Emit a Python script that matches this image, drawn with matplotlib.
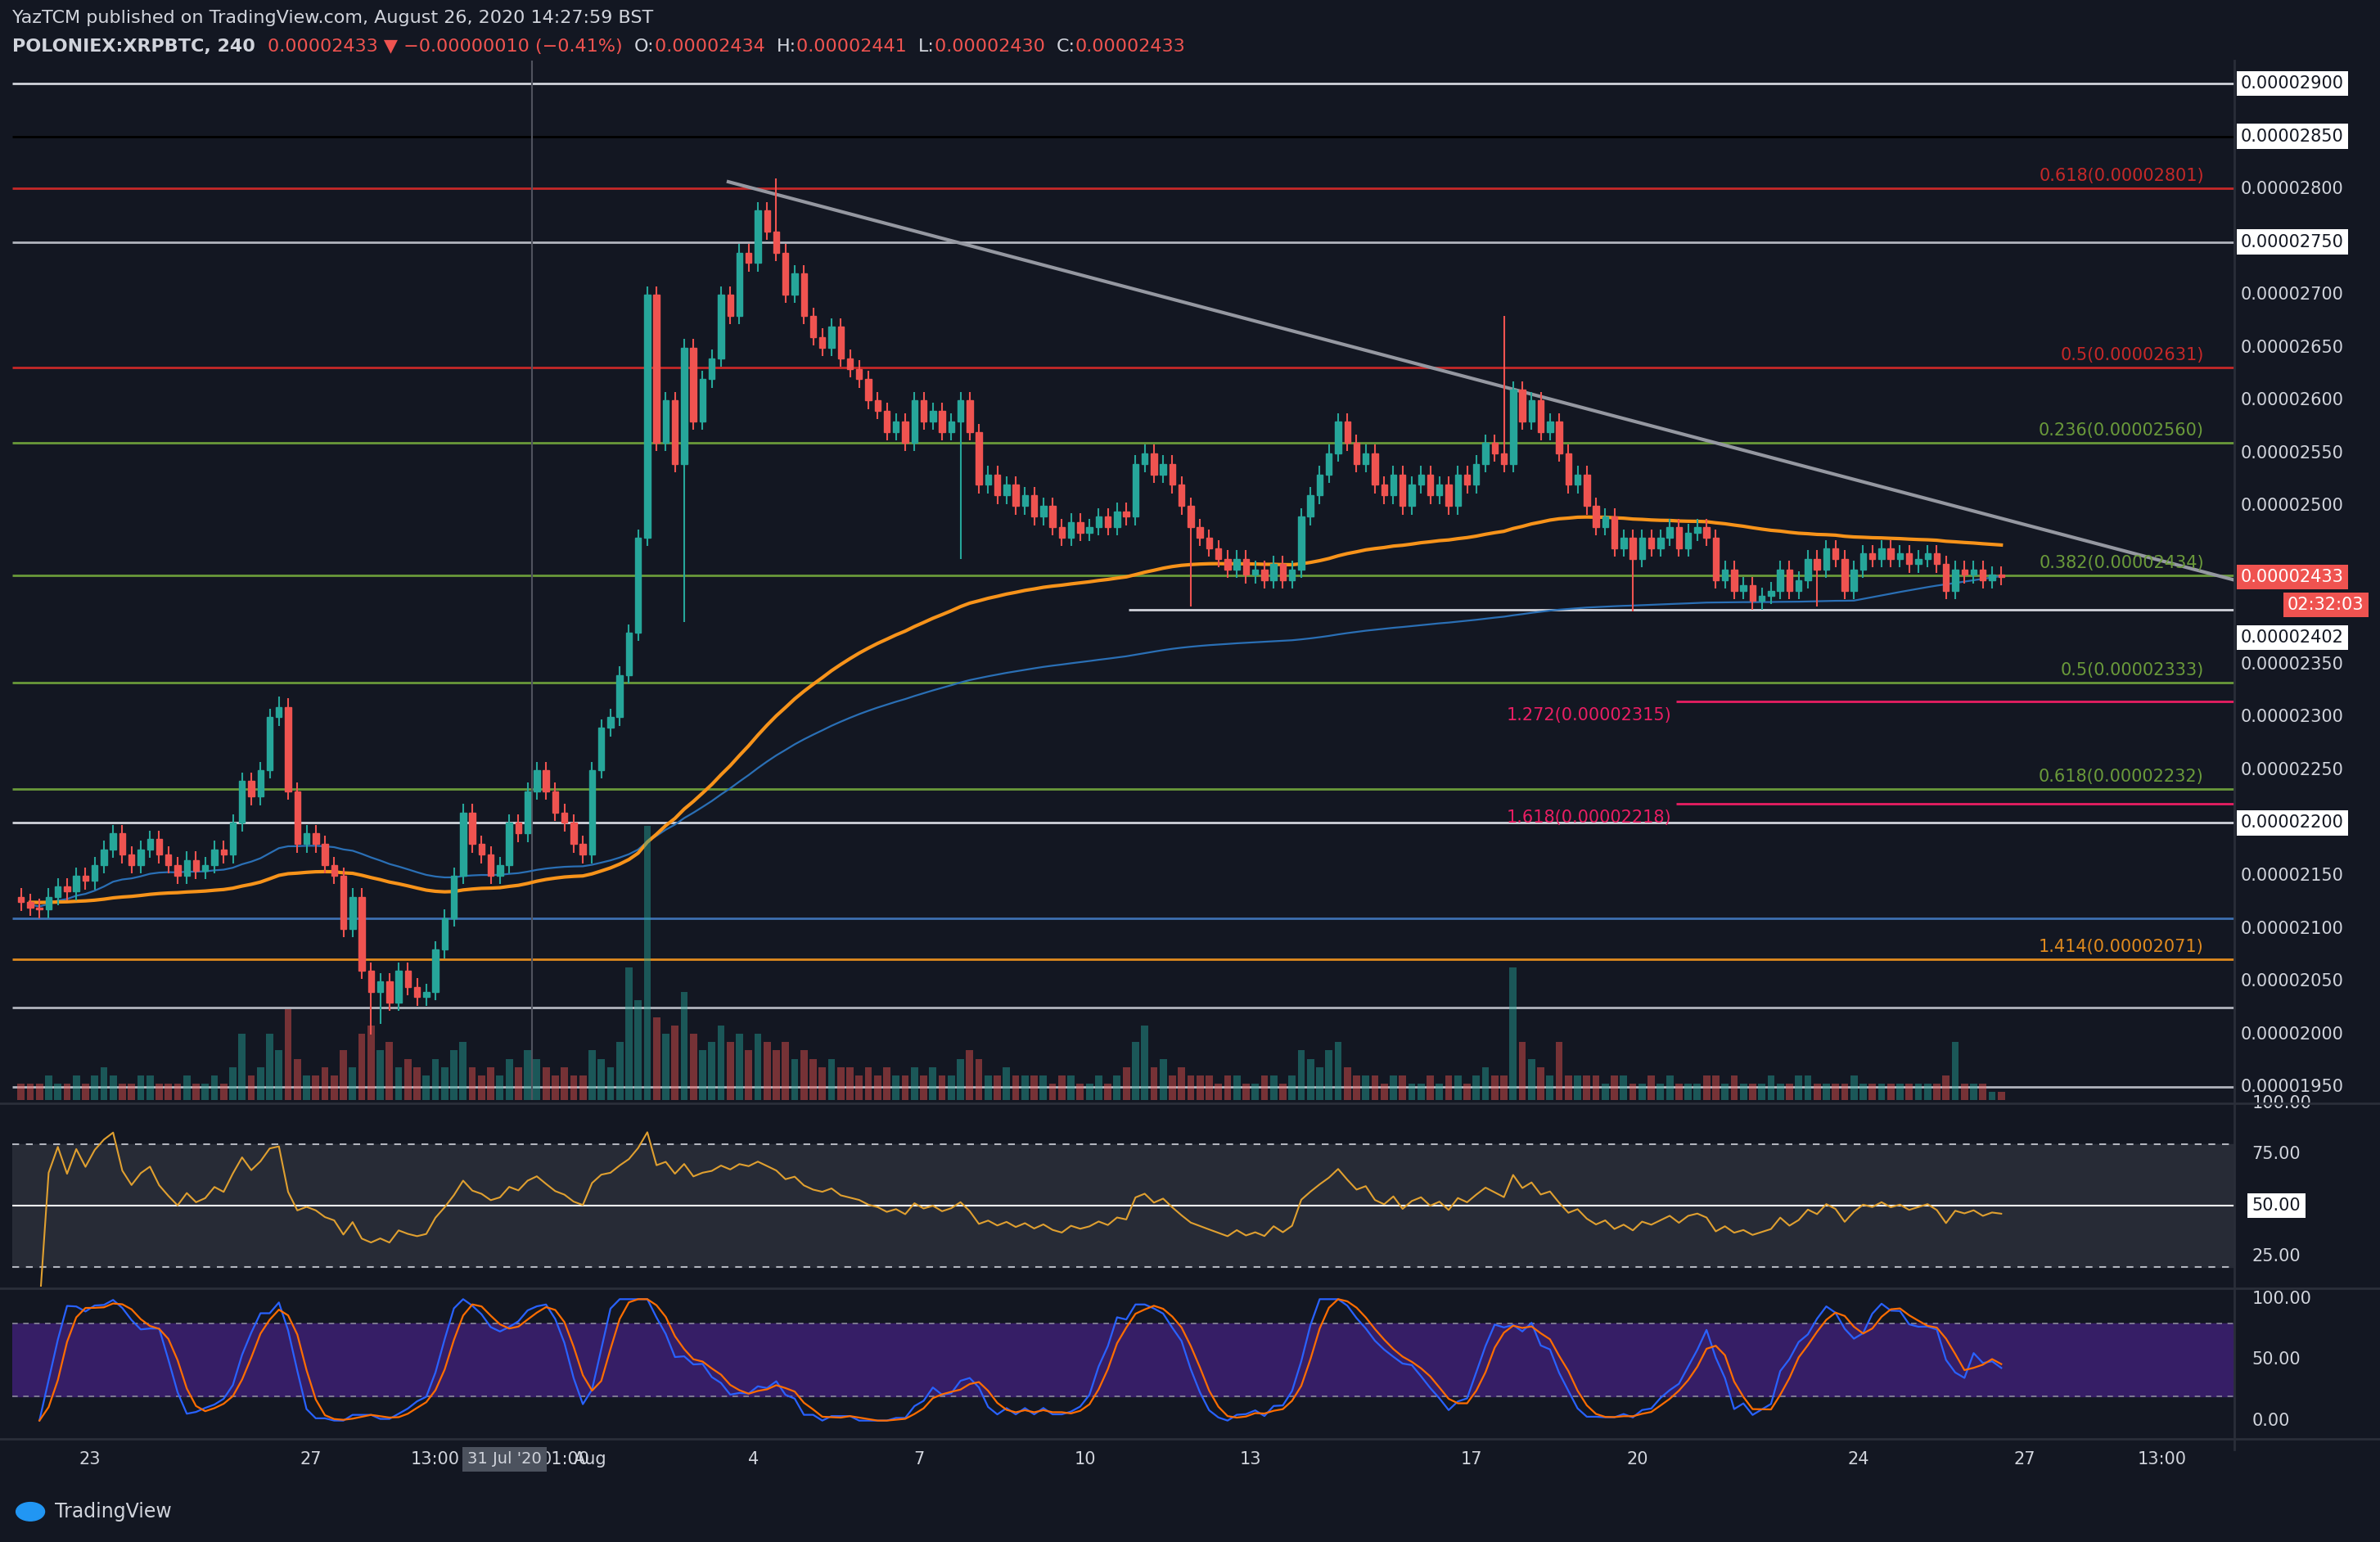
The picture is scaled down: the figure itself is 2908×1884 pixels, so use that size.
import numpy as np
import pandas as pd
import matplotlib
matplotlib.use("Agg")
import matplotlib.pyplot as plt
from matplotlib.patches import Rectangle

# ---------------- data (prices in 1e-8 BTC) ----------------
closes = [2125, 2120,
 2118, 2130, 2140, 2135, 2150, 2145,
 2160, 2175, 2190, 2170, 2160, 2175,
 2185, 2170, 2160, 2150, 2165, 2155,
 2160, 2175, 2170, 2200, 2240, 2225,
 2250, 2300, 2310, 2230, 2180, 2190,
 2180, 2160, 2150, 2100, 2130, 2060,
 2040, 2050, 2030, 2060, 2045, 2035,
 2040, 2080, 2110, 2150, 2210, 2180,
 2170, 2150, 2160, 2200, 2190, 2230,
 2250, 2230, 2210, 2200, 2180, 2170,
 2250, 2290, 2300, 2340, 2380, 2470,
 2700, 2560, 2600, 2540, 2650, 2580,
 2620, 2640, 2700, 2680, 2740, 2730,
 2780, 2760, 2740, 2700, 2720, 2680,
 2660, 2650, 2670, 2640, 2630, 2620,
 2600, 2590, 2570, 2580, 2560, 2600,
 2580, 2590, 2570, 2580, 2600, 2570,
 2520, 2530, 2510, 2520, 2500, 2510,
 2490, 2500, 2480, 2470, 2485, 2475,
 2480, 2490, 2480, 2495, 2490, 2540,
 2550, 2530, 2540, 2520, 2500, 2480,
 2470, 2460, 2450, 2440, 2450, 2435,
 2440, 2430, 2445, 2430, 2440, 2490,
 2510, 2530, 2550, 2580, 2560, 2540,
 2550, 2520, 2510, 2530, 2500, 2520,
 2530, 2510, 2520, 2500, 2530, 2520,
 2540, 2560, 2550, 2540, 2610, 2580,
 2600, 2570, 2580, 2550, 2520, 2530,
 2500, 2480, 2490, 2460, 2470, 2450,
 2470, 2460, 2470, 2480, 2460, 2475,
 2480, 2470, 2430, 2440, 2420, 2425,
 2410, 2415, 2420, 2440, 2420, 2430,
 2450, 2440, 2460, 2450, 2420, 2440,
 2455, 2450, 2460, 2450, 2455, 2445,
 2450, 2455, 2445, 2420, 2440, 2435,
 2440, 2430, 2435, 2433]

volumes = [2, 2,
 2,3,2,2,3,2, 3,4,3,2,2,3, 3,2,2,2,3,2, 2,3,2,4,8,3, 4,8,6,11,5,3,
 3,4,3,6,4,8, 9,6,7,4,5,4, 3,5,4,6,7,4, 3,4,3,5,4,6, 5,4,3,4,3,3,
 6,5,4,7,16,12, 33,10,8,9,13,8, 6,7,9,7,8,6, 8,7,6,7,5,6, 5,4,5,4,4,3,
 4,3,4,3,3,4, 3,4,3,3,5,6, 5,3,3,4,3,3, 3,3,2,3,3,2, 2,3,2,3,4,7,
 9,4,5,3,4,3, 3,3,2,3,3,2, 2,3,3,2,3,6, 5,4,6,7,4,3, 3,3,2,3,3,2,
 2,3,2,3,3,2, 3,4,3,3,16,7, 5,4,3,7,3,3, 3,3,2,3,3,2, 2,3,2,3,2,2,
 2,3,3,2,3,2, 2,2,3,2,2,3, 3,2,2,2,2,3, 2,2,2,2,2,2, 2,2,2,3,7,2,
 2,2,1,1]

# notable wick extremes: candle index -> (high, low)
spikes = {28: (2320, None), 38: (None, 2000), 39: (None, 2010), 72: (None, 2390),
          82: (2810, None), 102: (None, 2450), 127: (None, 2405),
          161: (2680, None), 175: (None, 2400), 195: (None, 2405)}

levels = [  # price, color, label, x-start (days)
    (2900, "#d1d4dc", None, None), (2850, "#000000", None, None),
    (2801, "#c62828", "0.618(0.00002801)", None), (2750, "#b2b5be", None, None),
    (2631, "#c62828", "0.5(0.00002631)", None), (2560, "#6a9a3a", "0.236(0.00002560)", None),
    (2434, "#6a9a3a", "0.382(0.00002434)", None), (2402, "#d1d4dc", None, 9.8),
    (2333, "#6a9a3a", "0.5(0.00002333)", None), (2315, "#e91e63", "1.272(0.00002315)", 19.7),
    (2232, "#6a9a3a", "0.618(0.00002232)", None), (2218, "#e91e63", "1.618(0.00002218)", 19.7),
    (2200, "#d1d4dc", None, None), (2110, "#3d6fb0", None, None),
    (2071, "#e08a1e", "1.414(0.00002071)", None), (2025, "#b2b5be", None, None),
    (1950, "#b2b5be", None, None)]

xticks = [-9, -5, -2.75, -1.5, -0.4, 0.05, 3, 6, 9, 12, 16, 19, 23, 26, 28.5]
xlabels = ["23", "27", "13:00", "31 Jul '20", "01:00", "Aug", "4", "7", "10", "13", "17", "20", "24", "27", "13:00"]

# ---------------- derived ----------------
n = len(closes)
t = -10.333 + np.arange(n) / 6.0
c = np.array(closes, float)
o = np.concatenate([[c[0] + 5], c[:-1]])
hi = np.maximum(o, c) + 8
lo = np.minimum(o, c) - 8
for k, (h, l) in spikes.items():
    if k < n:
        if h: hi[k] = h
        if l: lo[k] = l
s = pd.Series(c)
ma1 = s.ewm(span=100, adjust=False).mean()
ma2 = s.rolling(200, min_periods=1).mean()
d = s.diff().fillna(0)
up = d.clip(lower=0).ewm(alpha=1/14, adjust=False).mean()
dn = (-d.clip(upper=0)).ewm(alpha=1/14, adjust=False).mean()
rsi = 100 - 100 / (1 + up / dn.replace(0, 1e-9))
rmin = rsi.rolling(14, min_periods=1).min(); rmax = rsi.rolling(14, min_periods=1).max()
st = (rsi - rmin) / (rmax - rmin).replace(0, 1) * 100
K = st.rolling(3, min_periods=1).mean(); D = K.rolling(3, min_periods=1).mean()

BG = "#131722"; TXT = "#d1d4dc"
W, H = 1568, 1016
fig = plt.figure(figsize=(29.08, 18.84), dpi=100, facecolor=BG)
def ax_at(x0, y0, x1, y1):
    a = fig.add_axes([x0 / W, 1 - y1 / H, (x1 - x0) / W, (y1 - y0) / H])
    a.set_facecolor(BG)
    for sp in a.spines.values(): sp.set_visible(False)
    a.set_xticks([]); a.set_yticks([])
    return a

X0, X1 = -10.41, 29.8
ax = ax_at(8, 40, 1472, 725)
ax.set_xlim(X0, X1); ax.set_ylim(1937.4, 2921.6)
axv = ax.twinx(); axv.set_ylim(0, 125); axv.set_yticks([])
for sp in axv.spines.values(): sp.set_visible(False)
GREEN, RED = "#26a69a", "#ef5350"
for i in range(n):
    col = GREEN if c[i] >= o[i] else RED
    axv.bar(t[i] + 1/12, volumes[i] if i < len(volumes) else 1, width=0.13, color=col, alpha=0.45, zorder=1)
for p, colr, lab, xs in levels:
    ax.hlines(p, xs if xs is not None else X0, X1, color=colr, lw=2, zorder=2)
    if lab:
        if xs is None:
            ax.text(29.25, p + 4, lab, color=colr, fontsize=15, ha="right", va="bottom", zorder=5)
        else:
            ax.text(18.13, p - 5, lab, color=colr, fontsize=15, ha="center", va="top", zorder=5)
ax.axvline(-1.0, color="#50535e", lw=1.5)
ax.plot([2.55, 29.8], [2807, 2430], color="#9598a1", lw=3, zorder=3)
ax.plot(t[1:] + 1/12, ma2[1:], color="#2a6fb5", lw=1.6, zorder=3)
ax.plot(t[1:] + 1/12, ma1[1:], color="#f7931a", lw=3, zorder=4)
for i in range(n):
    col = GREEN if c[i] >= o[i] else RED
    xm = t[i] + 1/12
    ax.vlines(xm, lo[i], hi[i], color=col, lw=1.5, zorder=5)
    b0, b1 = min(o[i], c[i]), max(o[i], c[i])
    ax.add_patch(Rectangle((xm - 0.055, b0), 0.11, max(b1 - b0, 1.5), color=col, zorder=6))

def ylab(p): return (p - 1937.4) / (2921.6 - 1937.4)
for p in range(1950, 2901, 50):
    if p in (2400, 2450): continue
    boxed = p in (2900, 2850, 2750, 2200)
    ax.text(1.003, ylab(p), "0.%08d" % p, transform=ax.transAxes,
            color="#131722" if boxed else TXT, fontsize=15, va="center", ha="left",
            bbox=dict(boxstyle="square,pad=0.25", fc="white", ec="none") if boxed else None, clip_on=False)
ax.text(1.003, ylab(2402) - 0.027, "0.00002402", transform=ax.transAxes, color="#131722", fontsize=15,
        va="center", bbox=dict(boxstyle="square,pad=0.25", fc="white", ec="none"), clip_on=False)
ax.text(1.003, ylab(2433), "0.00002433", transform=ax.transAxes, color="white", fontsize=15,
        va="center", bbox=dict(boxstyle="square,pad=0.25", fc="#ef5350", ec="none"), clip_on=False)
ax.text(1.024, ylab(2433) - 0.027, "02:32:03", transform=ax.transAxes, color="white", fontsize=15,
        va="center", bbox=dict(boxstyle="square,pad=0.25", fc="#ef5350", ec="none"), clip_on=False)

# RSI
ar = ax_at(8, 733, 1472, 848)
ar.set_xlim(X0, X1); ar.set_ylim(10.2, 95.5)
ar.axhspan(20, 80, color="#2a2e39", alpha=0.9, zorder=0)
ar.axhline(80, color="#b2b5be", ls=(0, (4, 4)), lw=1.5); ar.axhline(20, color="#b2b5be", ls=(0, (4, 4)), lw=1.5)
ar.axhline(50, color="white", lw=1.5)
ar.plot(t[2:] + 1/12, rsi[2:], color="#e0a030", lw=1.5)
for v in (100, 75, 50, 25):
    ar.text(1.008, (v - 10.2) / 85.3, "%.2f" % v, transform=ar.transAxes, va="center", fontsize=15,
            color="#131722" if v == 50 else TXT, clip_on=False,
            bbox=dict(boxstyle="square,pad=0.25", fc="white", ec="none") if v == 50 else None)
# Stoch RSI
as_ = ax_at(8, 850, 1472, 948)
as_.set_xlim(X0, X1); as_.set_ylim(-15, 107.5)
as_.axhspan(20, 80, color="#3b1f6e", alpha=0.9, zorder=0)
as_.axhline(80, color="#8a8a9a", ls=(0, (4, 4)), lw=1.2); as_.axhline(20, color="#8a8a9a", ls=(0, (4, 4)), lw=1.2)
as_.plot(t[2:] + 1/12, K[2:], color="#2962ff", lw=1.6)
as_.plot(t[2:] + 1/12, D[2:], color="#ff6d00", lw=1.6)
for v in (100, 50, 0):
    as_.text(1.008, (v + 15) / 122.5, "%.2f" % v, transform=as_.transAxes, va="center", fontsize=15, color=TXT, clip_on=False)
for yy in (727, 849, 948):
    fig.add_artist(plt.Line2D([0, 1], [1 - yy / H] * 2, color="#2a2e39", lw=2))
fig.add_artist(plt.Line2D([1472 / W] * 2, [0.06, 1 - 40 / H], color="#2a2e39", lw=2))

# x axis
axx = ax_at(8, 948, 1472, 975); axx.set_xlim(X0, X1); axx.set_ylim(0, 1)
for xv, lb in zip(xticks, xlabels):
    boxed = lb in ("31 Jul '20",)
    small = lb in ("01:00", "Aug") and False
    axx.text(xv, 0.5, lb, ha="center", va="center", fontsize=14 if boxed else 15, color=TXT, zorder=3 if boxed else 2,
             bbox=dict(boxstyle="square,pad=0.3", fc="#4c525e", ec="none") if boxed else None)

# header
fig.text(8 / W, 1 - 12 / H, "YazTCM published on TradingView.com, August 26, 2020 14:27:59 BST",
         color=TXT, fontsize=16, va="center")
parts = [("POLONIEX:XRPBTC, 240  ", TXT), ("0.00002433 ▼ −0.00000010 (−0.41%)  ", "#ef5350"),
         ("O:", TXT), ("0.00002434  ", "#ef5350"), ("H:", TXT), ("0.00002441  ", "#ef5350"),
         ("L:", TXT), ("0.00002430  ", "#ef5350"), ("C:", TXT), ("0.00002433", "#ef5350")]
xx = 8 / W
r = fig.canvas.get_renderer()
for s_, col in parts:
    tt = fig.text(xx, 1 - 31 / H, s_, color=col, fontsize=16, va="center", fontweight="bold" if s_.startswith("POL") else "normal")
    bb = tt.get_window_extent(renderer=r)
    xx += bb.width / fig.bbox.width
fig.text(36 / W, 1 - 996 / H, "TradingView", color=TXT, fontsize=17, va="center")
fig.add_artist(plt.Circle((20 / W, 1 - 996 / H), 0.006, color="#2196f3", transform=fig.transFigure))

fig.savefig("out.png", dpi=100, facecolor=BG)
